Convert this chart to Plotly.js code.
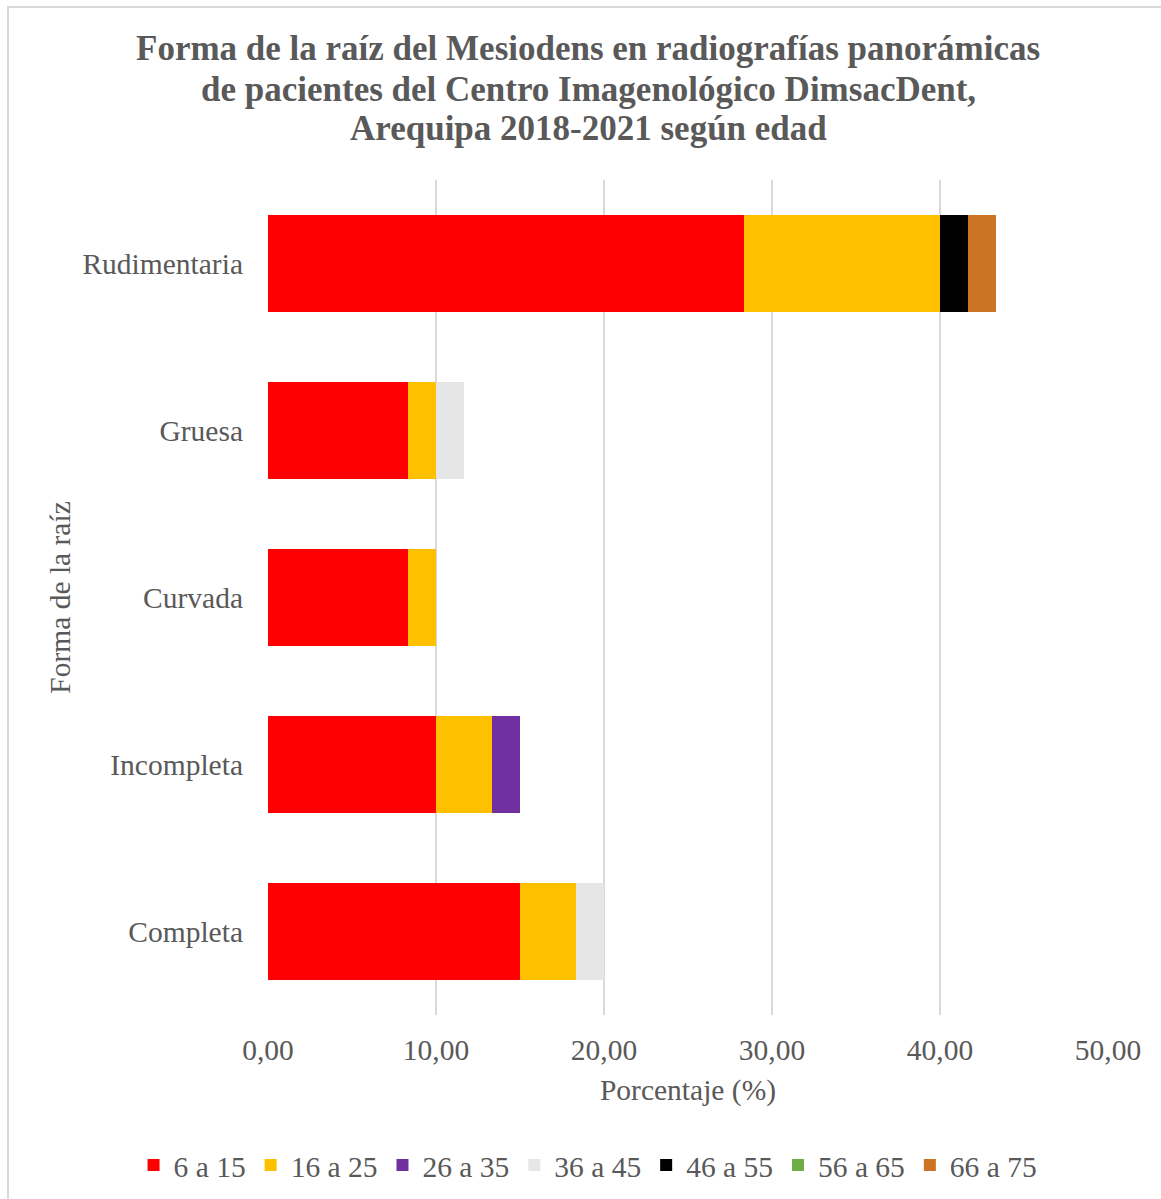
<!DOCTYPE html>
<html>
<head>
<meta charset="utf-8">
<script src="https://cdn.plot.ly/plotly-3.0.1.min.js"></script>
<style>
html,body{margin:0;padding:0;background:#fff;}
#frame{position:absolute;left:7px;top:6px;width:1200px;height:1250px;border-left:2px solid #d9d9d9;border-top:2px solid #d9d9d9;pointer-events:none;z-index:5;}
#chart{position:absolute;left:0;top:0;width:1161px;height:1199px;}
</style>
</head>
<body>
<div id="chart"></div>
<div id="frame"></div>
<script>
const titleLines = [
  "Forma de la raíz del Mesiodens en radiografías panorámicas",
  "de pacientes del Centro Imagenológico DimsacDent,",
  "Arequipa 2018-2021 según edad"
];
const categories = ["Completa", "Incompleta", "Curvada", "Gruesa", "Rudimentaria"];
const seriesNames = ["6 a 15", "16 a 25", "26 a 35", "36 a 45", "46 a 55", "56 a 65", "66 a 75"];
const s6a15  = [15.00, 10.00, 8.33, 8.33, 28.33];
const s16a25 = [3.33, 3.33, 1.67, 1.67, 11.67];
const s26a35 = [0, 1.67, 0, 0, 0];
const s36a45 = [1.67, 0, 0, 1.67, 0];
const s46a55 = [0, 0, 0, 0, 1.67];
const s56a65 = [0, 0, 0, 0, 0];
const s66a75 = [0, 0, 0, 0, 1.67];
const tickVals = [0, 10, 20, 30, 40, 50];
const tickText = ["0,00", "10,00", "20,00", "30,00", "40,00", "50,00"];

const colors = ["#ff0000", "#ffc000", "#7030a0", "#e7e6e6", "#000000", "#70ad47", "#cd7424"];
const allSeries = [s6a15, s16a25, s26a35, s36a45, s46a55, s56a65, s66a75];

const traces = allSeries.map((vals, i) => ({
  type: "bar",
  orientation: "h",
  name: seriesNames[i],
  y: categories,
  x: vals,
  marker: {color: colors[i], line: {width: 0}},
  hoverinfo: "x+name"
}));

const font = {family: "Liberation Serif, Times New Roman, serif", color: "#595959"};
const FS = 29.5;

// page geometry: margins 10px left/right, plot region 1141px wide
const ML = 10, PW = 1141;
const titleY = [48, 89, 129];
const annotations = titleLines.map((t, i) => ({
  text: "<b>" + t + "</b>",
  xref: "paper", yref: "paper",
  x: (588 - ML) / PW, xanchor: "center",
  y: (1015 - titleY[i]) / 835, yanchor: "middle",
  showarrow: false,
  font: Object.assign({}, font, {size: 35})
}));

const layout = {
  width: 1161, height: 1199,
  barmode: "stack",
  bargap: 0.425,
  paper_bgcolor: "#fff",
  plot_bgcolor: "#fff",
  margin: {l: ML, r: 10, t: 180, b: 184},
  font: Object.assign({size: FS}, font),
  annotations: annotations,
  xaxis: {
    domain: [(268 - ML) / PW, (1108 - ML) / PW],
    range: [0, 50],
    tickvals: tickVals,
    ticktext: tickText,
    showgrid: true,
    gridcolor: "#d9d9d9",
    gridwidth: 2,
    zeroline: false,
    showline: false,
    ticks: "",
    tickfont: Object.assign({}, font, {size: FS}),
    ticklabelstandoff: 14,
    title: {text: "Porcentaje (%)", font: Object.assign({}, font, {size: FS}), standoff: 14},
    automargin: false,
    fixedrange: true
  },
  yaxis: {
    type: "category",
    categoryorder: "array",
    categoryarray: categories,
    showgrid: false,
    zeroline: false,
    showline: false,
    ticks: "",
    ticklabelstandoff: 24,
    tickfont: Object.assign({}, font, {size: FS}),
    title: {text: "Forma de la raíz", font: Object.assign({}, font, {size: FS}), standoff: 3},
    automargin: false,
    fixedrange: true
  },
  legend: {
    orientation: "h",
    x: 0.5065, xanchor: "center", xref: "container",
    y: 0.028, yanchor: "middle", yref: "container",
    traceorder: "normal",
    font: Object.assign({}, font, {size: FS}),
    itemwidth: 30,
    itemsizing: "constant"
  },
  showlegend: true
};

Plotly.newPlot("chart", traces, layout, {displayModeBar: false, staticPlot: true});
</script>
</body>
</html>
